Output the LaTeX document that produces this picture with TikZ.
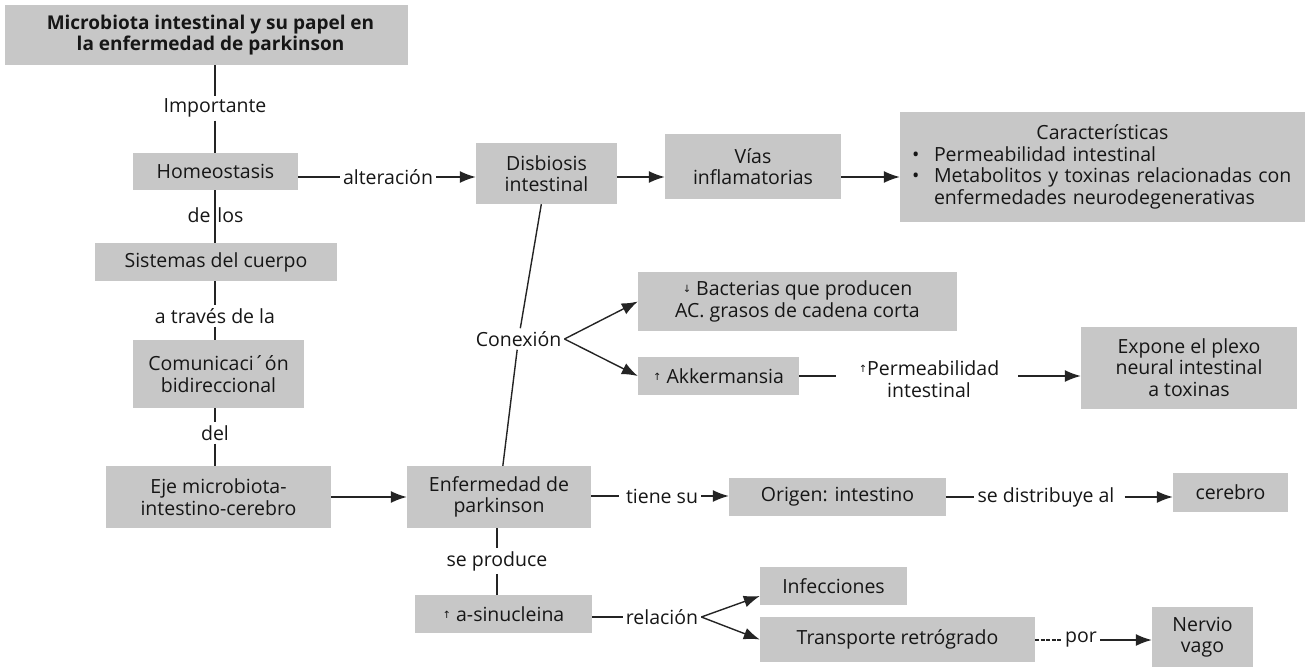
\documentclass[tikz,border=0pt]{standalone}
\usepackage{fontspec}
\setmainfont{Open Sans}
\newfontfamily\arrowfont{DejaVu Sans}
\usetikzlibrary{arrows.meta}

\definecolor{boxgray}{RGB}{199,199,199}
\definecolor{txt}{RGB}{22,22,22}
\definecolor{ln}{RGB}{36,36,36}
\newcommand\arrup{\raisebox{3pt}{\arrowfont\fontsize{10}{10}\selectfont ↑}}
\newcommand\arrdn{\raisebox{3pt}{\arrowfont\fontsize{10}{10}\selectfont ↓}}

\begin{document}
\begin{tikzpicture}[x=1pt, y=-1pt,
    every node/.style={font=\fontsize{19.5}{21.5}\selectfont, text=txt},
    box/.style={fill=boxgray, inner sep=0pt, align=center},
    ttl/.style={font=\bfseries\fontsize{19}{21.5}\selectfont},
    lbl/.style={inner sep=3pt, align=center},
    lnk/.style={draw=ln, line width=1.4pt},
    arr/.style={-{Latex[length=16pt,width=12pt]}}]
          \useasboundingbox (0,0) rectangle (1306,667);
          % left column
          \node[box,ttl, minimum width=403pt, minimum height=60pt](0) at (206.5,35) {\hspace*{8pt}Microbiota intestinal y su papel en\\\hspace*{8pt}la enfermedad de parkinson};
          \node[box, minimum width=165pt, minimum height=37pt](1) at (215.5,171.5) {Homeostasis};
          \node[box, minimum width=242pt, minimum height=38pt](2) at (216,262) {Sistemas del cuerpo};
          \node[box, minimum width=171pt, minimum height=68pt](3) at (218.5,374) {Comunicaci´ón\\bidireccional};
          \node[box, minimum width=225pt, minimum height=62pt](4) at (218.5,497) {Eje microbiota-\\intestino-cerebro};
          % middle
          \node[box, minimum width=184pt, minimum height=62pt](5) at (499,497) {Enfermedad de\\parkinson};
          \node[box, minimum width=141pt, minimum height=61pt](6) at (546.5,173.5) {Disbiosis\\intestinal};
          \node[box, minimum width=176pt, minimum height=65pt](7) at (753,166.5) {Vías\\inflamatorias};
          \node[box, minimum width=405pt, minimum height=110pt, text width=381pt, align=left](8) at (1102.5,167)
            {{\centering Características\par}
             \makebox[22pt][l]{•}Permeabilidad intestinal\par
             \makebox[22pt][l]{•}Metabolitos y toxinas relacionadas con\par
             \hspace*{22pt}enfermedades neurodegenerativas};
          \node[box, minimum width=319pt, minimum height=59pt](9) at (797.5,301.5) {\arrdn{} Bacterias que producen\\AC. grasos de cadena corta};
          \node[box, minimum width=161pt, minimum height=38pt](10) at (718.5,376) {\arrup{} Akkermansia};
          \node[box, minimum width=216pt, minimum height=82pt](11) at (1189,367.5) {Expone el plexo\\neural intestinal\\a toxinas};
          \node[box, minimum width=217pt, minimum height=38pt](12) at (837.5,497) {Origen: intestino};
          \node[box, minimum width=115pt, minimum height=39pt](13) at (1230.5,492.5) {cerebro};
          \node[box, minimum width=177pt, minimum height=38pt](14) at (503.5,614) {\arrup{} a-sinucleina};
          \node[box, minimum width=147pt, minimum height=38pt](15) at (833.5,586) {Infecciones};
          \node[box, minimum width=275pt, minimum height=45pt](16) at (897.5,639.5) {Transporte retrógrado};
          \node[box, minimum width=101pt, minimum height=60pt](17) at (1202.5,637) {Nervio\\vago};
          % link words
          \node[lbl](20) at (215,108) {Importante};
          \node[lbl](21) at (215.5,215) {de\hspace{7pt}los};
          \node[lbl](22) at (215,316) {a través de la};
          \node[lbl](23) at (215,433) {del};
          \node[lbl](24) at (388,177) {alteración};
          \node[lbl](25) at (518.5,339) {Conexión};
          \node[lbl](26) at (929,379) {\arrup Permeabilidad\\intestinal};
          \node[lbl](27) at (662,496) {tiene su};
          \node[lbl](28) at (1046,497) {se distribuye al};
          \node[lbl](29) at (497,561) {se produce};
          \node[lbl](30) at (662,617) {relación};
          \node[lbl](31) at (1081,640) {por};
          \path
            (0.south -| 20) edge[lnk] (20)
            (20) edge[lnk] (1.north -| 20)
            (1.south -| 20) edge[lnk] (2.north -| 20)
            (2.south -| 22) edge[lnk] (22)
            (22) edge[lnk] (3.north -| 22)
            (3.south -| 23) edge[lnk] (23)
            (23) edge[lnk] (4.north -| 23)
            (4) edge[lnk,arr] (5)
            (1.east |- 24) edge[lnk] (24)
            (24) edge[lnk,arr] (6.west |- 24)
            (6.east |- 24) edge[lnk,arr] (7.west |- 24)
            (7.east |- 24) edge[lnk,arr] (8.west |- 24)
            (6) edge[lnk] (25)
            (25) edge[lnk] (5)
            (25.east) edge[lnk,arr] (9.west)
            (25.east) edge[lnk,arr] (10.west)
            (10.east) edge[lnk, shorten >=20pt] (26.west |- 10.east)
            (26.east |- 10.east) edge[lnk,arr, shorten <=16pt] (11.west |- 10.east)
            (5.east |- 27) edge[lnk, shorten >=4pt] (27)
            (27) edge[lnk,arr] (12.west |- 27)
            (12.east |- 28) edge[lnk] (28)
            (28) edge[lnk,arr, shorten <=7pt] (13.west |- 28)
            (5.south -| 29) edge[lnk] (29)
            (29) edge[lnk] (14.north -| 29)
            (14.east |- 30) edge[lnk] (30)
            (30.east) edge[lnk,arr] ([yshift=-10pt]15.west)
            (30.east) edge[lnk,arr] (16.west)
            (16.east |- 31) edge[lnk, dash pattern=on 4pt off 1.5pt] (31)
            (31) edge[lnk,arr] (17.west |- 31)
            ;
        \end{tikzpicture}
\end{document}
